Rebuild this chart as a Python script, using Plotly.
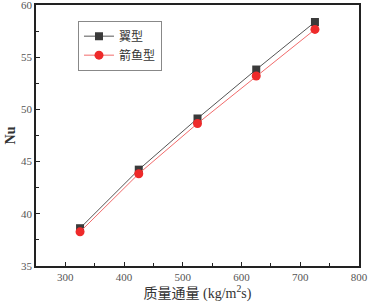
import plotly.graph_objects as go

mass_flux = [325, 425, 525, 625, 725]
nu_wing = [38.62, 44.23, 49.13, 53.82, 58.37]
nu_swordfish = [38.27, 43.84, 48.65, 53.2, 57.66]
series_names = ["翼型", "箭鱼型"]

fig = go.Figure()
fig.add_trace(go.Scatter(
    x=mass_flux, y=nu_wing, name=series_names[0], mode="lines+markers",
    line=dict(color="#555555", width=1),
    marker=dict(symbol="square", size=8, color="#3a3a3a"),
))
fig.add_trace(go.Scatter(
    x=mass_flux, y=nu_swordfish, name=series_names[1], mode="lines+markers",
    line=dict(color="#f26b6b", width=1),
    marker=dict(symbol="circle", size=9, color="#ee2a2a"),
))

axis_common = dict(
    showgrid=False, zeroline=False, showline=True, linecolor="#222222", linewidth=1.5,
    mirror=True, ticks="inside", ticklen=4, tickwidth=1, tickcolor="#222222",
    automargin=False, ticklabeloverflow="allow",
    tickfont=dict(family="Liberation Serif", size=11, color="#555555"),
)
fig.update_xaxes(range=[250, 800], dtick=100, tick0=300,
                 minor=dict(ticks="inside", ticklen=3, dtick=50, tick0=250, tickcolor="#222222"),
                 title=dict(text="质量通量 (kg/m<sup>2</sup>s)", standoff=3,
                            font=dict(family="Liberation Serif, Noto Sans CJK SC", size=14, color="#333333")),
                 **axis_common)
fig.update_yaxes(range=[35, 60], dtick=5,
                 minor=dict(ticks="inside", ticklen=3, dtick=2.5, tickcolor="#222222"),
                 title=dict(text="<b>Nu</b>", standoff=2,
                            font=dict(family="Liberation Serif", size=14, color="#333333")),
                 **axis_common)
fig.update_layout(
    width=368, height=306,
    margin=dict(l=36, r=9, t=5, b=40),
    paper_bgcolor="white", plot_bgcolor="white",
    showlegend=True,
    legend=dict(x=0.13, y=0.94, xanchor="left", yanchor="top",
                bgcolor="white", bordercolor="#888888", borderwidth=1,
                font=dict(family="Liberation Serif, Noto Sans CJK SC", size=12, color="#333333"),
                itemwidth=30, tracegroupgap=0),
)
fig.write_html("out.html", config={"displayModeBar": False},
               post_script="document.body.style.margin='0';")
